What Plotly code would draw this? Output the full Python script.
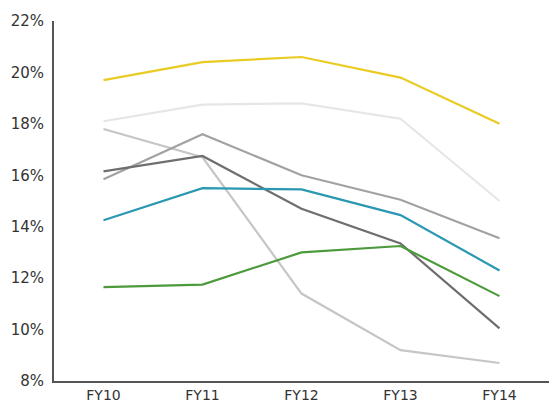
import plotly.graph_objects as go

# Fiscal years on the category axis
years = ["FY10", "FY11", "FY12", "FY13", "FY14"]

# Margin series (percent)
yellow_series = [19.7, 20.4, 20.6, 19.8, 18.0]
pale_grey_series = [18.1, 18.75, 18.8, 18.2, 15.0]
light_grey_series = [17.8, 16.7, 11.4, 9.2, 8.7]
mid_grey_series = [15.85, 17.6, 16.0, 15.05, 13.55]
dark_grey_series = [16.15, 16.75, 14.7, 13.35, 10.05]
teal_series = [14.25, 15.5, 15.45, 14.45, 12.3]
green_series = [11.65, 11.75, 13.0, 13.25, 11.3]

series = [
    (pale_grey_series, "#E6E6E6"),
    (light_grey_series, "#C6C6C6"),
    (mid_grey_series, "#A2A2A2"),
    (dark_grey_series, "#6E6E6E"),
    (green_series, "#4C9A3C"),
    (teal_series, "#2A98B2"),
    (yellow_series, "#EACB24"),
]

fig = go.Figure()
for values, color in series:
    fig.add_trace(go.Scatter(
        x=years, y=values, mode="lines",
        line=dict(color=color, width=2.2),
        showlegend=False, hoverinfo="skip",
    ))

tick_vals = [8, 10, 12, 14, 16, 18, 20, 22]
tick_text = [f"{v}%" for v in tick_vals]

fig.update_layout(
    width=550, height=405,
    margin=dict(l=54, r=1, t=21, b=24),
    plot_bgcolor="white", paper_bgcolor="white",
    font=dict(family="DejaVu Sans", size=15, color="#333333"),
    xaxis=dict(
        type="category", range=[-0.5, 4.5], automargin=False,
        showline=True, linecolor="#555555", linewidth=2,
        showgrid=False, ticks="", tickfont=dict(size=14),
        ticklabelstandoff=0,
    ),
    yaxis=dict(
        range=[8, 22], tickvals=tick_vals, ticktext=tick_text,
        automargin=False,
        showline=True, linecolor="#555555", linewidth=2,
        showgrid=False, zeroline=False, ticks="",
        tickfont=dict(size=15), ticklabelstandoff=5,
    ),
)

fig.write_html("out.html")
